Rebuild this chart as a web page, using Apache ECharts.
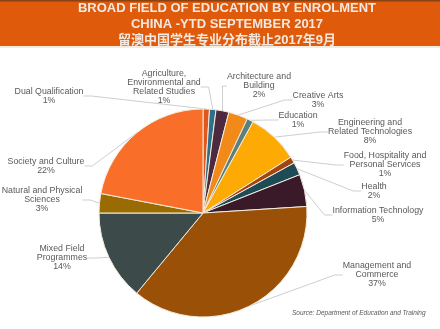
<!DOCTYPE html>
<html>
<head>
<meta charset="utf-8">
<script src="https://cdn.jsdelivr.net/npm/echarts@6/dist/echarts.min.js"></script>
<style>
html,body{margin:0;padding:0;background:#fff;}
#chart{width:440px;height:329px;}
</style>
</head>
<body>
<div id="chart"></div>
<script>
// Enrolment share by broad field of education, clockwise from 12 o'clock
const fields = [
  'Dual Qualification',
  'Agriculture,\nEnvironmental and\nRelated Studies',
  'Architecture and\nBuilding',
  'Creative Arts',
  'Education',
  'Engineering and\nRelated Technologies',
  'Food, Hospitality and\nPersonal Services',
  'Health',
  'Information Technology',
  'Management and\nCommerce',
  'Mixed Field\nProgrammes',
  'Natural and Physical\nSciences',
  'Society and Culture'
];
const shares = [1, 1, 2, 3, 1, 8, 1, 2, 5, 37, 14, 3, 22];

const sliceColors = [
  '#E1571E', '#2F6F8C', '#4D2A3F', '#F28A1A', '#5E7F7D', '#FDAA05',
  '#A4450F', '#1F4B57', '#3A1A29', '#9A5006', '#3C4A4A', '#9B6B03', '#F96F29'
];

// label anchor points (centre of each label block)
const labelAnchors = [
  [49, 96], [164, 87], [259, 86], [318, 100], [298, 120], [370, 132],
  [385, 165], [374, 191], [378, 215], [377, 275], [62, 258], [42, 200], [46, 166]
];

const chart = echarts.init(document.getElementById('chart'), null, {renderer: 'canvas'});

chart.setOption({
  backgroundColor: '#ffffff',
  animation: false,
  graphic: [
    {type: 'rect', shape: {x: 0, y: 0, width: 440, height: 46}, style: {fill: '#DF5A0B'}, z: -10},
    {type: 'rect', shape: {x: 0, y: 0, width: 440, height: 1.5}, style: {fill: '#8A4214'}, z: -9},
    {type: 'rect', shape: {x: 0, y: 46, width: 440, height: 2}, style: {fill: '#F6EBDD'}, z: -9},
    {
      type: 'text', left: 292, top: 310, z: 10,
      style: {
        text: 'Source: Department of Education and Training',
        font: 'italic 6.5px "Liberation Sans", Arial, sans-serif',
        fill: '#595959'
      }
    }
  ],
  title: {
    text: 'BROAD FIELD OF EDUCATION BY ENROLMENT\nCHINA -YTD SEPTEMBER 2017\n留澳中国学生专业分布截止2017年9月',
    left: 227,
    top: 0,
    padding: 0,
    textAlign: 'center',
    textStyle: {
      color: '#F3E9E0',
      fontSize: 13,
      fontWeight: 'bold',
      fontFamily: '"Liberation Sans", "Noto Sans CJK SC", sans-serif',
      lineHeight: 16,
      align: 'center'
    }
  },
  series: [{
    type: 'pie',
    center: [203, 213],
    radius: [0, 104],
    startAngle: 90,
    clockwise: true,
    data: fields.map((name, i) => ({
      name: name,
      value: shares[i],
      itemStyle: {color: sliceColors[i]}
    })),
    itemStyle: {borderColor: '#F3ECDD', borderWidth: 1},
    label: {
      show: true,
      position: 'outside',
      formatter: p => p.name + '\n' + p.value + '%',
      color: '#595959',
      fontSize: 8.8,
      lineHeight: 9,
      fontFamily: '"Liberation Sans", Arial, sans-serif',
      align: 'center',
      overflow: 'none'
    },
    labelLine: {
      show: true,
      length: 8,
      length2: 8,
      smooth: false,
      lineStyle: {color: '#CFCFCF', width: 1}
    },
    labelLayout: function (params) {
      const a = labelAnchors[params.dataIndex];
      return {x: a[0], y: a[1], align: 'center', verticalAlign: 'middle'};
    },
    emphasis: {disabled: true}
  }]
});
</script>
</body>
</html>
